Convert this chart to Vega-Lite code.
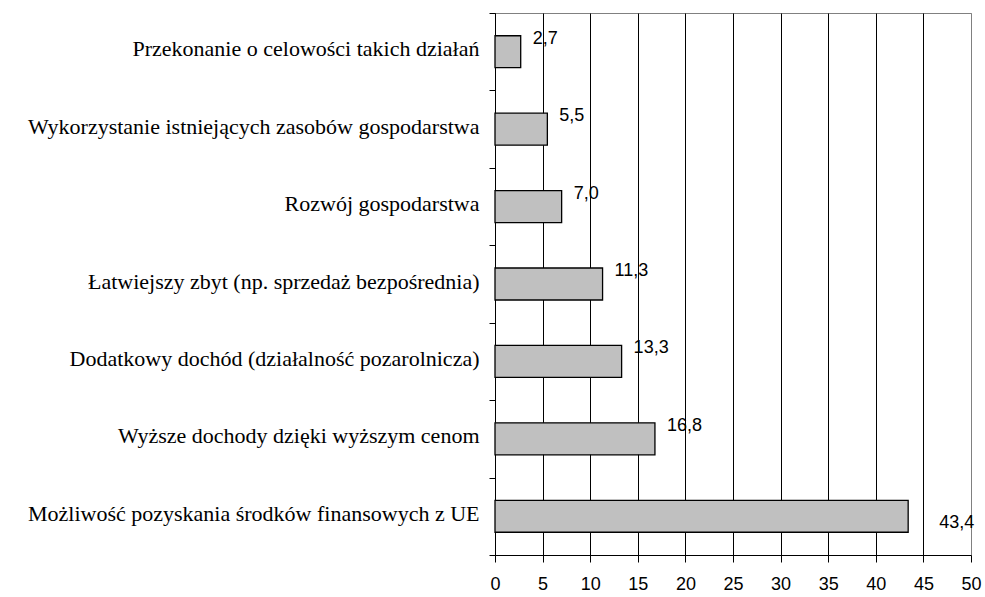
{
  "$schema": "https://vega.github.io/schema/vega-lite/v6.json",
  "width": 476,
  "height": 542,
  "autosize": "none",
  "padding": {"left": 495, "top": 13, "right": 14, "bottom": 42},
  "background": "white",
  "data": {
    "values": [
      {"category": "Przekonanie o celowości takich działań", "value": 2.7},
      {"category": "Wykorzystanie istniejących zasobów gospodarstwa", "value": 5.5},
      {"category": "Rozwój gospodarstwa", "value": 7.0},
      {"category": "Łatwiejszy zbyt (np. sprzedaż bezpośrednia)", "value": 11.3},
      {"category": "Dodatkowy dochód (działalność pozarolnicza)", "value": 13.3},
      {"category": "Wyższe dochody dzięki wyższym cenom\u00a0\u00a0", "value": 16.8},
      {"category": "Możliwość pozyskania środków finansowych z UE\u00a0\u00a0", "value": 43.4}
    ]
  },
  "encoding": {
    "y": {
      "field": "category",
      "type": "nominal",
      "sort": [
        "Przekonanie o celowości takich działań",
        "Wykorzystanie istniejących zasobów gospodarstwa",
        "Rozwój gospodarstwa",
        "Łatwiejszy zbyt (np. sprzedaż bezpośrednia)",
        "Dodatkowy dochód (działalność pozarolnicza)",
        "Wyższe dochody dzięki wyższym cenom\u00a0\u00a0",
        "Możliwość pozyskania środków finansowych z UE\u00a0\u00a0"
      ],
      "scale": {"paddingInner": 0, "paddingOuter": 0},
      "axis": {
        "title": null,
        "tickBand": "extent",
        "ticks": true,
        "tickSize": 6,
        "tickColor": "black",
        "domainColor": "black",
        "labelFont": "Liberation Serif",
        "labelFontSize": 22,
        "labelColor": "black",
        "labelPadding": 10,
        "labelOffset": -3,
        "labelLimit": 600
      }
    },
    "x": {
      "field": "value",
      "type": "quantitative",
      "scale": {"domain": [0, 50], "nice": false},
      "axis": {
        "title": null,
        "values": [0, 5, 10, 15, 20, 25, 30, 35, 40, 45, 50],
        "grid": true,
        "gridColor": {"condition": {"test": "datum.value === 50", "value": "#808080"}, "value": "black"},
        "gridWidth": 1,
        "gridOpacity": 1,
        "domainColor": "black",
        "tickColor": "black",
        "tickSize": 7,
        "labelFont": "Liberation Sans",
        "labelFontSize": 18,
        "labelColor": "black",
        "labelPadding": 13,
        "labelFlush": false,
        "labelOverlap": false
      }
    }
  },
  "layer": [
    {
      "mark": {"type": "bar", "fill": "#C0C0C0", "stroke": "black", "strokeWidth": 1.3, "height": {"band": 0.413}}
    },
    {
      "transform": [{"filter": "datum.value < 40"}],
      "mark": {"type": "text", "align": "left", "baseline": "middle", "dx": 12, "dy": -13, "font": "Liberation Sans", "fontSize": 18, "color": "black"},
      "encoding": {"text": {"field": "value", "type": "quantitative", "format": ".1f"}}
    },
    {
      "transform": [{"filter": "datum.value >= 40"}],
      "mark": {"type": "text", "align": "left", "baseline": "middle", "dx": 31, "dy": 7, "font": "Liberation Sans", "fontSize": 18, "color": "black"},
      "encoding": {"text": {"field": "value", "type": "quantitative", "format": ".1f"}}
    }
  ],
  "config": {
    "view": {"stroke": "#808080", "strokeWidth": 1},
    "locale": {"number": {"decimal": ",", "thousands": " ", "grouping": [3], "currency": ["", " zł"]}}
  }
}
